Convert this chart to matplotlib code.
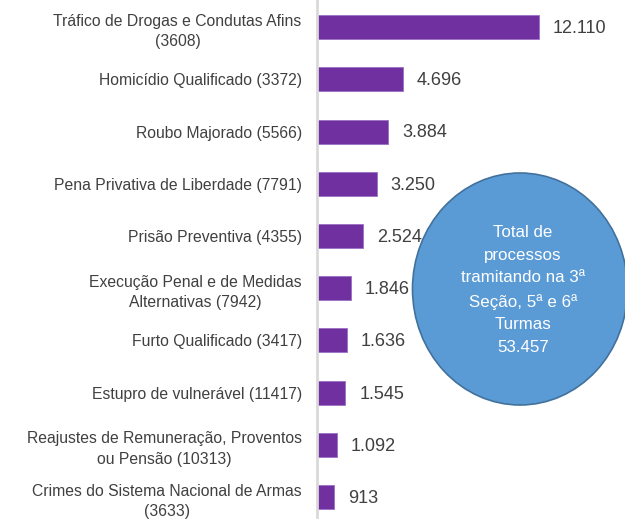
import matplotlib
matplotlib.use('Agg')
import matplotlib.pyplot as plt
from matplotlib.patches import Ellipse

plt.rcParams['font.family'] = ['Liberation Sans', 'DejaVu Sans']

# categories (top to bottom) and counts
labels = [
    'Tráfico de Drogas e Condutas Afins\n(3608)',
    'Homicídio Qualificado (3372)',
    'Roubo Majorado (5566)',
    'Pena Privativa de Liberdade (7791)',
    'Prisão Preventiva (4355)',
    'Execução Penal e de Medidas\nAlternativas (7942)',
    'Furto Qualificado (3417)',
    'Estupro de vulnerável (11417)',
    'Reajustes de Remuneração, Proventos\nou Pensão (10313)',
    'Crimes do Sistema Nacional de Armas\n(3633)',
]
values = [12110, 4696, 3884, 3250, 2524, 1846, 1636, 1545, 1092, 913]
total_text = 'Total de\nprocessos\ntramitando na 3ª\nSeção, 5ª e 6ª\nTurmas\n53.457'

text_color = '#404040'
bar_color = '#7030a0'


def fmt(v):
    return f'{v:,}'.replace(',', '.')


def main():
    fig = plt.figure(figsize=(6.25, 5.19), dpi=100)
    ax = fig.add_axes([317 / 625, 0, 1 - 317 / 625, 1])

    y = list(range(len(values)))
    ax.barh(y, values, height=0.46, color=bar_color, edgecolor='#9b6fc4', linewidth=0.6)

    for yi, v in zip(y, values):
        ax.annotate(fmt(v), (v, yi), xytext=(10, -1), textcoords='offset points',
                    va='center', ha='left', fontsize=13, color=text_color)

    ax.set_yticks(y)
    ax.set_yticklabels(labels, fontsize=11.3, color=text_color, linespacing=1.46,
                       multialignment='center')
    ax.tick_params(axis='y', length=0, pad=11)
    ax.set_xticks([])
    ax.set_xlim(0, 16800)
    ax.set_ylim(9.42, -0.52)

    for s in ['top', 'right', 'bottom']:
        ax.spines[s].set_visible(False)
    ax.spines['left'].set_color('#d9d9d9')
    ax.spines['left'].set_linewidth(2)

    circle = Ellipse((520 / 625, 1 - 289 / 519), 215 / 625, 232 / 519,
                     transform=fig.transFigure, facecolor='#5b9bd5',
                     edgecolor='#41719c', linewidth=1.2, zorder=5)
    fig.add_artist(circle)
    fig.text(523 / 625, 1 - 290 / 519, total_text, ha='center', va='center',
             color='white', fontsize=12.2, linespacing=1.64, zorder=6)

    fig.savefig('out.png', dpi=100)


if __name__ == "__main__":
    main()
